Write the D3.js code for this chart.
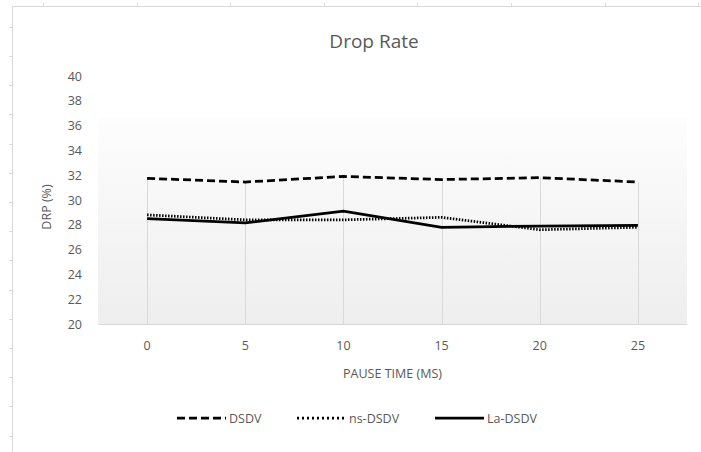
<!DOCTYPE html>
<html lang="en">
<head>
  <meta charset="UTF-8" />
  <title>Drop Rate</title>
  <script src="https://d3js.org/d3.v7.min.js"></script>
  <style>
    body { margin: 0; background: #fff; font-family: "Open Sans", sans-serif; }
    .tick text { fill: #595959; font-size: 12.5px; font-family: "Open Sans", sans-serif; }
  </style>
</head>
<body>
  <svg id="chart" width="701" height="452"></svg>
  <script>
  // data
  const pauseTimes = ["0", "5", "10", "15", "20", "25"];
  const dsdv   = [31.75, 31.45, 31.9, 31.65, 31.8, 31.45];
  const nsDsdv = [28.8, 28.4, 28.4, 28.6, 27.6, 27.8];
  const laDsdv = [28.5, 28.15, 29.1, 27.8, 27.9, 27.95];
  const yTicks = [20, 22, 24, 26, 28, 30, 32, 34, 36, 38, 40];

  const series = [
    { name: "DSDV",    values: dsdv,   dash: "8,4",     legDash: "8,4" },
    { name: "ns-DSDV", values: nsDsdv, dash: "1.5,1.5", legDash: "2,3" },
    { name: "La-DSDV", values: laDsdv, dash: null,      legDash: null }
  ];

  const svg = d3.select("#chart");
  const grey = "#d9d9d9", txt = "#595959";

  // spreadsheet cells peeking around the chart
  svg.append("line").attr("x1", 12.5).attr("x2", 12.5).attr("y1", 6).attr("y2", 452).attr("stroke", grey);
  svg.append("line").attr("x1", 12.5).attr("x2", 701).attr("y1", 6.5).attr("y2", 6.5).attr("stroke", grey);
  d3.range(15).forEach(i => {
    const yy = Math.round(26.7 + i * 29.2) + 0.5;
    svg.append("line").attr("x1", 9).attr("x2", 12).attr("y1", yy).attr("y2", yy).attr("stroke", grey);
  });
  d3.range(8).forEach(i => {
    const xx = Math.round(43 + i * 93.6) + 0.5;
    svg.append("line").attr("x1", xx).attr("x2", xx).attr("y1", 3).attr("y2", 6).attr("stroke", grey);
  });

  const pLeft = 98, pRight = 687, pTop = 76, pBottom = 324;
  const x = d3.scaleBand().domain(pauseTimes).range([pLeft, pRight]);
  const y = d3.scaleLinear().domain([20, 40]).range([pBottom, pTop]);
  const cx = d => x(d) + x.bandwidth() / 2;

  // plot area gradient
  const grad = svg.append("defs").append("linearGradient")
    .attr("id", "pa").attr("x1", 0).attr("x2", 0).attr("y1", 0).attr("y2", 1);
  grad.append("stop").attr("offset", "0%").attr("stop-color", "#fdfdfd");
  grad.append("stop").attr("offset", "100%").attr("stop-color", "#eeeeee");
  svg.append("rect").attr("x", pLeft).attr("y", 118)
    .attr("width", pRight - pLeft).attr("height", pBottom - 118)
    .attr("fill", "url(#pa)");

  // drop lines from the highest point of each category
  svg.append("g").selectAll("line").data(pauseTimes).join("line")
    .attr("x1", d => Math.round(cx(d)) + 0.5).attr("x2", d => Math.round(cx(d)) + 0.5)
    .attr("y1", (d, i) => y(d3.max(series, s => s.values[i])))
    .attr("y2", pBottom)
    .attr("stroke", grey).attr("stroke-width", 1);

  // axes
  const xAxis = svg.append("g").attr("transform", `translate(0,${pBottom})`)
    .call(d3.axisBottom(x).tickSize(0).tickPadding(17));
  xAxis.select(".domain").attr("stroke", grey);

  const yAxis = svg.append("g").attr("transform", `translate(${pLeft},0)`)
    .call(d3.axisLeft(y).tickValues(yTicks).tickSize(0).tickPadding(16));
  yAxis.select(".domain").remove();

  // lines
  const line = d3.line().x((d, i) => cx(pauseTimes[i])).y(d => y(d));
  svg.append("g").selectAll("path").data(series).join("path")
    .attr("d", d => line(d.values))
    .attr("fill", "none")
    .attr("stroke", "#000")
    .attr("stroke-width", 2.75)
    .attr("stroke-dasharray", d => d.dash);

  // titles
  svg.append("text").attr("x", 374).attr("y", 48).attr("text-anchor", "middle")
    .attr("fill", txt).style("font-size", "19px").text("Drop Rate");
  svg.append("text").attr("x", (pLeft + pRight) / 2).attr("y", 378).attr("text-anchor", "middle")
    .attr("fill", txt).style("font-size", "12.5px").text("PAUSE TIME (MS)");
  svg.append("text").attr("transform", "translate(51,207) rotate(-90)").attr("text-anchor", "middle")
    .attr("fill", txt).style("font-size", "12.5px").text("DRP (%)");

  // legend
  const legX = [177, 297, 435];
  const leg = svg.append("g").selectAll("g").data(series).join("g")
    .attr("transform", (d, i) => `translate(${legX[i]},418)`);
  leg.append("line").attr("x1", 0).attr("x2", 49)
    .attr("stroke", "#000").attr("stroke-width", 2.75)
    .attr("stroke-dasharray", d => d.legDash);
  leg.append("text").attr("x", 52).attr("y", 4.5)
    .attr("fill", txt).style("font-size", "12.5px").text(d => d.name);
  </script>
</body>
</html>
